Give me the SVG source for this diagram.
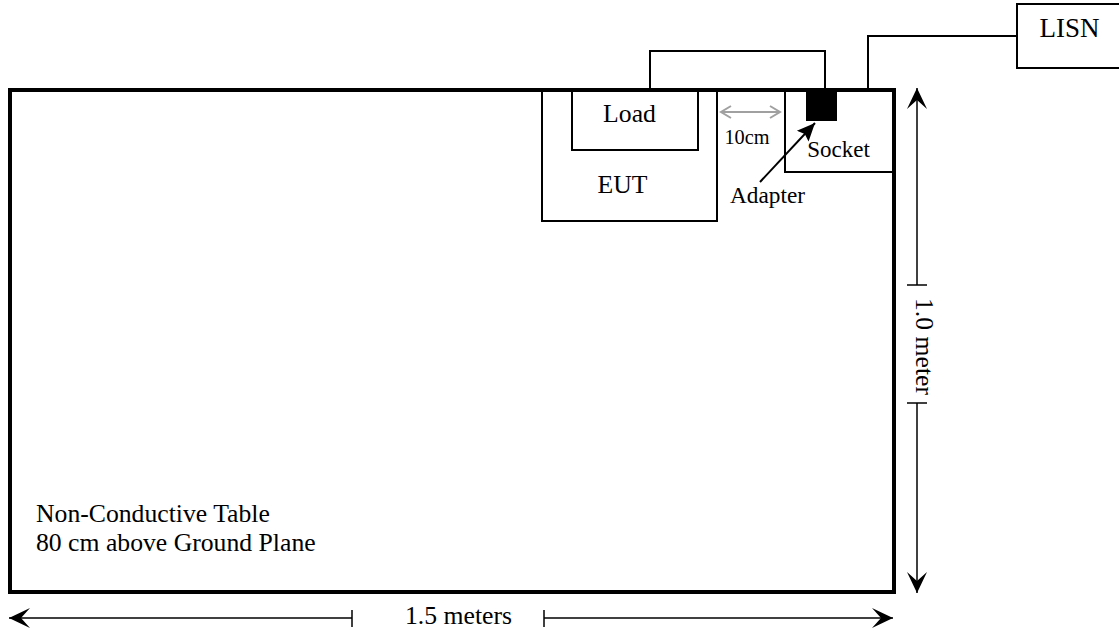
<svg xmlns="http://www.w3.org/2000/svg" width="1119" height="633" viewBox="0 0 1119 633">
<style>
text{font-family:"Liberation Serif","Times New Roman",serif;fill:#000}
.box{fill:none;stroke:#000;stroke-width:2}
.wire{fill:none;stroke:#000;stroke-width:2}
.dim{fill:none;stroke:#000;stroke-width:1.5}
.big{font-size:25.7px}
</style>
<defs>
<marker id="ah" markerWidth="24" markerHeight="24" viewBox="0 0 24 24" refX="22" refY="12" orient="auto-start-reverse" markerUnits="userSpaceOnUse">
<path d="M22,12 L1,2 L10,12 L1,22 Z" fill="#000"/>
</marker>
<marker id="ga" markerWidth="14" markerHeight="14" viewBox="0 0 14 14" refX="12" refY="7" orient="auto-start-reverse" markerUnits="userSpaceOnUse">
<path d="M2,1 L12,7 L2,13" fill="none" stroke="#a0a0a0" stroke-width="2"/>
</marker>
<marker id="fa" markerWidth="20" markerHeight="20" viewBox="0 0 20 20" refX="18" refY="10" orient="auto" markerUnits="userSpaceOnUse">
<path d="M18,10 L0,2 L3,10 L0,18 Z" fill="#000"/>
</marker>
</defs>
<g id="table">
<rect x="10" y="90" width="884" height="502" fill="none" stroke="#000" stroke-width="4"/>
<text x="36" y="522" class="big">Non-Conductive Table</text>
<text x="36" y="551" class="big">80 cm above Ground Plane</text>
</g>
<g id="eut">
<rect class="box" x="542" y="91" width="175" height="130"/>
<text x="622.5" y="193" class="big" text-anchor="middle">EUT</text>
</g>
<g id="load">
<rect class="box" x="572" y="91" width="126" height="59"/>
<text x="629.5" y="122" class="big" text-anchor="middle">Load</text>
</g>
<g id="socket">
<rect class="box" x="785" y="91" width="109" height="81"/>
<text x="838.5" y="157" font-size="23" text-anchor="middle">Socket</text>
</g>
<g id="adapter">
<rect x="806" y="90" width="31" height="31" fill="#000"/>
<text x="767.5" y="203" font-size="23.3" text-anchor="middle">Adapter</text>
</g>
<g id="lisn">
<rect class="box" x="1017" y="4" width="110" height="64"/>
<text x="1069.5" y="37" font-size="27" text-anchor="middle">LISN</text>
</g>
<g id="connectors">
<polyline class="wire" points="650,90 650,51 825,51 825,90"/>
<polyline class="wire" points="868,90 868,36 1017,36"/>
<line x1="721" y1="112" x2="780" y2="112" stroke="#a0a0a0" stroke-width="2" marker-start="url(#ga)" marker-end="url(#ga)"/>
<text x="747" y="144" font-size="20.3" text-anchor="middle">10cm</text>
<line x1="760" y1="182" x2="815" y2="123" stroke="#000" stroke-width="2" marker-end="url(#fa)"/>
<line class="dim" x1="917" y1="88" x2="917" y2="285" marker-start="url(#ah)"/>
<line class="dim" x1="917" y1="403" x2="917" y2="593" marker-end="url(#ah)"/>
<line class="dim" x1="907" y1="285" x2="927" y2="285"/>
<line class="dim" x1="907" y1="403" x2="927" y2="403"/>
<text x="0" y="0" class="big" text-anchor="middle" transform="translate(916,346.5) rotate(90)">1.0 meter</text>
<line class="dim" x1="9" y1="618" x2="352" y2="618" marker-start="url(#ah)"/>
<line class="dim" x1="544" y1="618" x2="893" y2="618" marker-end="url(#ah)"/>
<line class="dim" x1="352" y1="610" x2="352" y2="627"/>
<line class="dim" x1="544" y1="610" x2="544" y2="627"/>
<text x="458.5" y="624" class="big" text-anchor="middle">1.5 meters</text>
</g>
</svg>
